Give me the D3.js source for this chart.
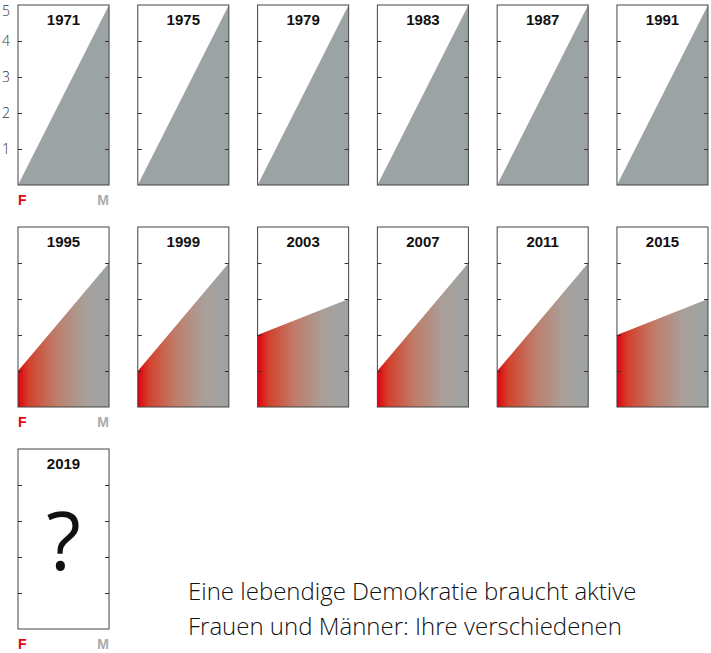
<!DOCTYPE html>
<html>
<head>
<meta charset="utf-8">
<script src="https://cdn.jsdelivr.net/npm/d3@7"></script>
<style>
  body { margin: 0; background: #fff; }
  svg { display: block; }
</style>
</head>
<body>
<div class="chart"></div>
<script>
// Width and height
const w = 711;
const h = 653;

// data
const years = ["1971", "1975", "1979", "1983", "1987", "1991",
               "1995", "1999", "2003", "2007", "2011", "2015", "2019"];
const femaleValues = [0, 0, 0, 0, 0, 0, 1, 1, 2, 1, 1, 2, null];
const maleValues   = [5, 5, 5, 5, 5, 5, 4, 4, 3, 4, 4, 3, null];
const sexes = ["F", "M"];
const yTicks = [1, 2, 3, 4, 5];
const caption = ["Eine lebendige Demokratie braucht aktive",
                 "Frauen und Männer: Ihre verschiedenen"];

const perRow = 6;
const panelH = 180;
const rowStep = 222;
const top0 = 5;

const svg = d3.select(".chart")
  .append("svg")
  .attr("width", w)
  .attr("height", h)
  .style("font-family", "'Liberation Sans', Arial, sans-serif");

// gradient red -> grey
const defs = svg.append("defs");
const grad = defs.append("linearGradient")
  .attr("id", "fm")
  .attr("x1", "0%").attr("x2", "100%")
  .attr("y1", "0%").attr("y2", "0%");
[["0%", "#e4000f"], ["12%", "#d3412c"], ["40%", "#c07b67"],
 ["72%", "#a99f99"], ["100%", "#9ca3a4"]].forEach(s => {
  grad.append("stop").attr("offset", s[0]).attr("stop-color", s[1]);
});

// column positions
const col = d3.scaleBand()
  .domain(d3.range(perRow))
  .range([18, 708])
  .paddingInner(0.24)
  .paddingOuter(0);

const bw = col.bandwidth();

const x = d3.scalePoint().domain(sexes).range([0, bw]);
const y = d3.scaleLinear().domain([0, 5]).range([panelH, 0]);

const area = d3.area()
  .x(d => x(d.sex))
  .y0(y(0))
  .y1(d => y(d.value));

years.forEach((year, i) => {
  const c = i % perRow;
  const r = Math.floor(i / perRow);
  const g = svg.append("g")
    .attr("transform", `translate(${col(c)},${top0 + r * rowStep})`);

  const f = femaleValues[i];
  const m = maleValues[i];

  if (f !== null) {
    g.append("path")
      .datum([{ sex: "F", value: f }, { sex: "M", value: m }])
      .attr("d", area)
      .attr("fill", f === 0 ? "#9ca3a4" : "url(#fm)");
  } else {
    g.append("text")
      .attr("x", bw / 2)
      .attr("y", panelH / 2 + 31)
      .attr("text-anchor", "middle")
      .style("font-family", "'Open Sans', sans-serif")
      .style("font-size", "80px")
      .style("font-weight", 400)
      .attr("fill", "#111")
      .text("?");
  }

  // frame
  g.append("rect")
    .attr("x", 0)
    .attr("y", 0)
    .attr("width", bw)
    .attr("height", panelH)
    .attr("fill", "none")
    .attr("stroke", "#444")
    .attr("stroke-width", 1);

  // inward ticks on both sides
  const left = d3.axisRight(y).tickValues([1, 2, 3, 4]).tickSize(4).tickFormat("");
  const right = d3.axisLeft(y).tickValues([1, 2, 3, 4]).tickSize(4).tickFormat("");
  g.append("g").call(left).call(a => a.select(".domain").remove())
    .selectAll("line").attr("stroke", "#333");
  g.append("g").attr("transform", `translate(${bw},0)`)
    .call(right).call(a => a.select(".domain").remove())
    .selectAll("line").attr("stroke", "#333");

  // year label
  g.append("text")
    .attr("x", bw / 2)
    .attr("y", 20)
    .attr("text-anchor", "middle")
    .style("font-size", "15px")
    .style("font-weight", "bold")
    .attr("fill", "#111")
    .text(year);

  // F / M labels under the first column
  if (c === 0) {
    g.append("text")
      .attr("x", x("F"))
      .attr("y", panelH + 20)
      .style("font-size", "14px")
      .style("font-weight", "bold")
      .attr("fill", "#e30613")
      .text("F");
    g.append("text")
      .attr("x", x("M"))
      .attr("y", panelH + 20)
      .attr("text-anchor", "end")
      .style("font-size", "14px")
      .style("font-weight", "bold")
      .attr("fill", "#a8acad")
      .text("M");
  }

  // value labels only on the very first panel ("5" nudged down so it stays in view)
  if (i === 0) {
    g.selectAll(".ylab")
      .data(yTicks)
      .enter()
      .append("text")
      .attr("class", "ylab")
      .attr("x", -8)
      .attr("y", d => Math.max(y(d) + 5, 8))
      .attr("dy", d => (d === 5 ? 3 : 0))
      .attr("text-anchor", "end")
      .style("font-family", "'Open Sans', sans-serif")
      .style("font-size", "14px")
      .style("font-weight", 300)
      .attr("fill", "#333")
      .text(d => d);
  }
});

// caption
svg.append("g")
  .selectAll("text")
  .data(caption)
  .enter()
  .append("text")
  .attr("x", 188)
  .attr("y", (d, i) => 600 + i * 35)
  .style("font-family", "'Open Sans', sans-serif")
  .style("font-size", "24px")
  .style("font-weight", 300)
  .attr("fill", "#111")
  .text(d => d);
</script>
</body>
</html>
